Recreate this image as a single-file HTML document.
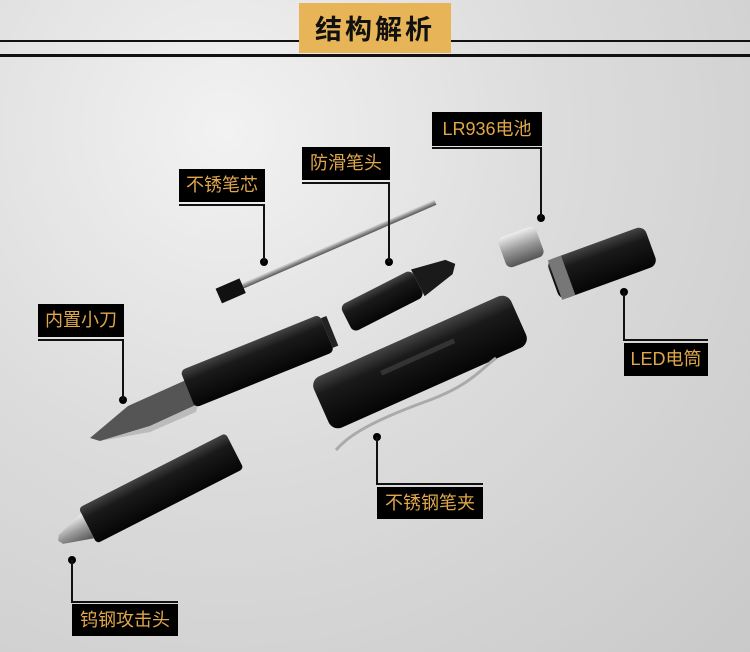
<!DOCTYPE html>
<html><head><meta charset="utf-8"><style>
html,body{margin:0;padding:0}
body{width:750px;height:652px;position:relative;overflow:hidden;font-family:"Liberation Sans","Noto Sans CJK SC",sans-serif;
background:radial-gradient(ellipse at 30% 20%,#f2f2f2 0%,#dcdcdc 45%,#c9c9c9 100%);}
.t{position:absolute;left:299px;top:3px;width:152px;height:50px;background:#e7b557;color:#111;font-weight:bold;font-size:27px;line-height:50px;text-align:center;letter-spacing:3px;font-family:"Noto Sans CJK SC",sans-serif}
.l{position:absolute;background:#111}
.b{position:absolute;background:#000;color:#dfa74a;font-size:18px;text-align:center;font-family:"Liberation Sans","Noto Sans CJK SC",sans-serif}
</style></head><body>
<div class="l" style="left:0;top:40px;width:750px;height:2px"></div>
<div class="l" style="left:0;top:54px;width:750px;height:3px"></div>
<div class="t">结构解析</div>

<svg width="750" height="652" style="position:absolute;left:0;top:0">
<defs>
<linearGradient id="blk" x1="0" y1="0" x2="0" y2="1"><stop offset="0" stop-color="#444"/><stop offset="0.3" stop-color="#1a1a1a"/><stop offset="1" stop-color="#050505"/></linearGradient>
<linearGradient id="sil" x1="0" y1="0" x2="0" y2="1"><stop offset="0" stop-color="#eee"/><stop offset="0.5" stop-color="#999"/><stop offset="1" stop-color="#555"/></linearGradient>
</defs>
<!-- refill -->
<g transform="translate(327,249) rotate(-23.5)">
<rect x="-100" y="-3" width="218" height="6" fill="url(#sil)"/>
<rect x="-118" y="-8" width="26" height="16" fill="#111"/>
</g>
<!-- grip head -->
<g transform="translate(400,292) rotate(-27)">
<rect x="-60" y="-15" width="80" height="30" rx="6" fill="url(#blk)"/>
<path d="M20,-15 L55,-8 L62,0 L55,8 L20,15 Z" fill="#1a1a1a"/>
</g>
<!-- battery -->
<g transform="translate(521,247) rotate(-20)">
<rect x="-20" y="-16" width="40" height="32" rx="6" fill="url(#sil)"/>
</g>
<!-- LED -->
<g transform="translate(602,263) rotate(-20)">
<rect x="-52" y="-21" width="104" height="42" rx="8" fill="url(#blk)"/>
<rect x="-50" y="-21" width="14" height="42" fill="#777"/>
</g>
<!-- knife -->
<path d="M90,438 L128,406 L186,380 L198,404 L150,426 L100,441 Z" fill="#555"/>
<path d="M100,441 L150,426 L198,404 L196,412 L150,432 Z" fill="#bbb"/>
<g transform="translate(260,360) rotate(-22)">
<rect x="-78" y="-20" width="150" height="40" rx="5" fill="url(#blk)"/>
<rect x="72" y="-16" width="6" height="32" fill="#222"/>
</g>
<!-- attack head -->
<g transform="translate(150,494) rotate(-27)">
<rect x="-70" y="-20" width="165" height="40" rx="4" fill="url(#blk)"/>
<path d="M-70,-14 L-100,-5 L-103,0 L-100,5 L-70,14 Z" fill="url(#sil)"/>
</g>
<!-- cap -->
<g transform="translate(420,362) rotate(-24)">
<rect x="-108" y="-28" width="216" height="56" rx="10" fill="url(#blk)"/>
<rect x="-40" y="-8" width="80" height="5" fill="#333"/>
</g>
<path d="M336,450 C345,440 360,425 430,400 C470,385 480,370 496,358" stroke="#aaa" stroke-width="3" fill="none"/>
<!-- dots -->
<g fill="#000">
<circle cx="264" cy="262" r="4"/><circle cx="389" cy="262" r="4"/><circle cx="541" cy="218" r="4"/>
<circle cx="123" cy="400" r="4"/><circle cx="624" cy="292" r="4"/><circle cx="377" cy="437" r="4"/><circle cx="72" cy="560" r="4"/>
</g>
</svg>

<!-- 不锈笔芯 -->
<div class="b" style="left:179px;top:169px;width:86px;height:33px;line-height:33px">不锈笔芯</div>
<div class="l" style="left:179px;top:204px;width:86px;height:2px"></div>
<div class="l" style="left:263px;top:204px;width:2px;height:58px"></div>
<!-- 防滑笔头 -->
<div class="b" style="left:302px;top:147px;width:88px;height:33px;line-height:33px">防滑笔头</div>
<div class="l" style="left:302px;top:182px;width:88px;height:2px"></div>
<div class="l" style="left:388px;top:182px;width:2px;height:80px"></div>
<!-- LR936电池 -->
<div class="b" style="left:432px;top:112px;width:110px;height:34px;line-height:34px">LR936电池</div>
<div class="l" style="left:432px;top:147px;width:110px;height:2px"></div>
<div class="l" style="left:540px;top:147px;width:2px;height:71px"></div>
<!-- 内置小刀 -->
<div class="b" style="left:38px;top:304px;width:86px;height:33px;line-height:33px">内置小刀</div>
<div class="l" style="left:38px;top:339px;width:86px;height:2px"></div>
<div class="l" style="left:122px;top:339px;width:2px;height:61px"></div>
<!-- LED电筒 -->
<div class="l" style="left:623px;top:292px;width:2px;height:48px"></div>
<div class="l" style="left:623px;top:339px;width:85px;height:2px"></div>
<div class="b" style="left:624px;top:343px;width:84px;height:33px;line-height:33px">LED电筒</div>
<!-- 不锈钢笔夹 -->
<div class="l" style="left:376px;top:437px;width:2px;height:47px"></div>
<div class="l" style="left:376px;top:483px;width:107px;height:2px"></div>
<div class="b" style="left:377px;top:487px;width:106px;height:32px;line-height:32px">不锈钢笔夹</div>
<!-- 钨钢攻击头 -->
<div class="l" style="left:71px;top:560px;width:2px;height:42px"></div>
<div class="l" style="left:71px;top:601px;width:107px;height:2px"></div>
<div class="b" style="left:72px;top:604px;width:106px;height:32px;line-height:32px">钨钢攻击头</div>
</body></html>
